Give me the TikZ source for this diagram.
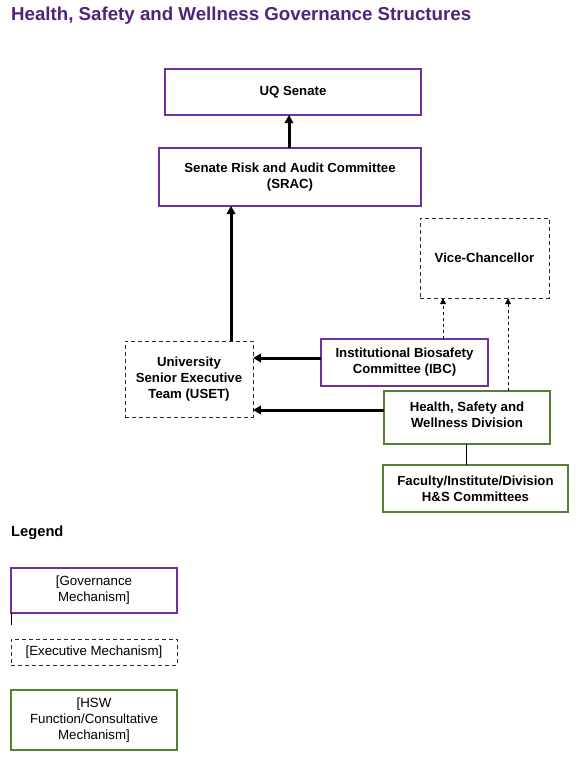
\documentclass[tikz,border=0pt]{standalone}
\usepackage{fontspec}
\setmainfont{Liberation Sans}
\usetikzlibrary{arrows.meta,calc}
\definecolor{titlepurple}{HTML}{51247A}
\definecolor{govpurple}{HTML}{7030A0}
\definecolor{hswgreen}{HTML}{538135}
\definecolor{execblue}{HTML}{1F2A44}
\tikzset{
  x=1pt,y=1pt,
  box/.style={inner sep=0pt,outer sep=0pt,align=center,font=\fontsize{13.2}{16}\selectfont\bfseries},
  govbox/.style={box,draw=govpurple,line width=2pt},
  hswbox/.style={box,draw=hswgreen,line width=2pt},
  execbox/.style={box,draw=execblue,line width=1pt,dash pattern=on 4pt off 3pt},
  legtext/.style={font=\fontsize{13.3}{16}\selectfont\mdseries},
  thickarrow/.style={line width=3pt,-{Triangle[length=8pt,width=8.5pt]}},
  dasharrow/.style={line width=1pt,dash pattern=on 3pt off 3pt,-{Triangle[length=6pt,width=5.5pt]}},
}
\begin{document}
\begin{tikzpicture}
\useasboundingbox[fill=white] (0,0) rectangle (581,-763);
\node[anchor=base west,inner sep=0pt,text=titlepurple,font=\fontsize{18.7}{20}\selectfont\bfseries] (title) at (11,-20) {Health, Safety and Wellness Governance Structures};

\node[govbox,minimum width=256,minimum height=46] (uq) at (293,-92) {UQ Senate};
\node[govbox,minimum width=262,minimum height=58] (srac) at (290,-177) {Senate Risk and Audit Committee\\(SRAC)};
\node[execbox,minimum width=129,minimum height=80] (vc) at (484.5,-258) {Vice-Chancellor};
\node[execbox,minimum width=128,minimum height=76] (uset) at (189,-379) {University\\Senior Executive\\Team (USET)};
\node[govbox,minimum width=167,minimum height=47] (ibc) at (404.5,-362.5) {Institutional Biosafety\\Committee (IBC)};
\node[hswbox,minimum width=166,minimum height=53,text depth=6pt] (hsw) at (467,-417.5) {Health, Safety and\\Wellness Division};
\node[hswbox,minimum width=185,minimum height=47] (fac) at (475.5,-488.5) {Faculty/Institute/Division\\H\&S Committees};

\draw[thickarrow] ([xshift=-1pt]srac.north) -- ([xshift=-1pt]srac.north |- uq.south);
\draw[thickarrow] ([xshift=42pt]uset.north) -- ([xshift=42pt]uset.north |- srac.south);
\draw[thickarrow] ([yshift=4.5pt]ibc.west) -- ([yshift=4.5pt]ibc.west -| uset.east);
\draw[thickarrow] ([yshift=7.5pt]hsw.west) -- ([yshift=7.5pt]hsw.west -| uset.east);
\draw[dasharrow] ([xshift=38.5pt]ibc.north) -- ([xshift=38.5pt]ibc.north |- vc.south);
\draw[dasharrow] ([xshift=41pt]hsw.north) -- ([xshift=41pt]hsw.north |- vc.south);
\draw[line width=1pt] ([xshift=-1pt]hsw.south) -- ([xshift=-1pt]hsw.south |- fac.north);

\node[anchor=base west,inner sep=0pt,font=\fontsize{14.7}{16}\selectfont\bfseries] (legend) at (11,-536) {Legend};
\node[govbox,legtext,minimum width=166,minimum height=45] (leggov) at (94,-590.5) {[Governance\\Mechanism]};
\coordinate (stub) at (11,-625);
\draw[line width=0.8pt] (leggov.south west) -- (stub);
\node[execbox,legtext,minimum width=166,minimum height=26] (legexec) at (94,-652) {[Executive Mechanism]};
\node[hswbox,legtext,minimum width=166,minimum height=60] (leghsw) at (94,-720) {[HSW\\Function/Consultative\\Mechanism]};
\end{tikzpicture}
\end{document}
